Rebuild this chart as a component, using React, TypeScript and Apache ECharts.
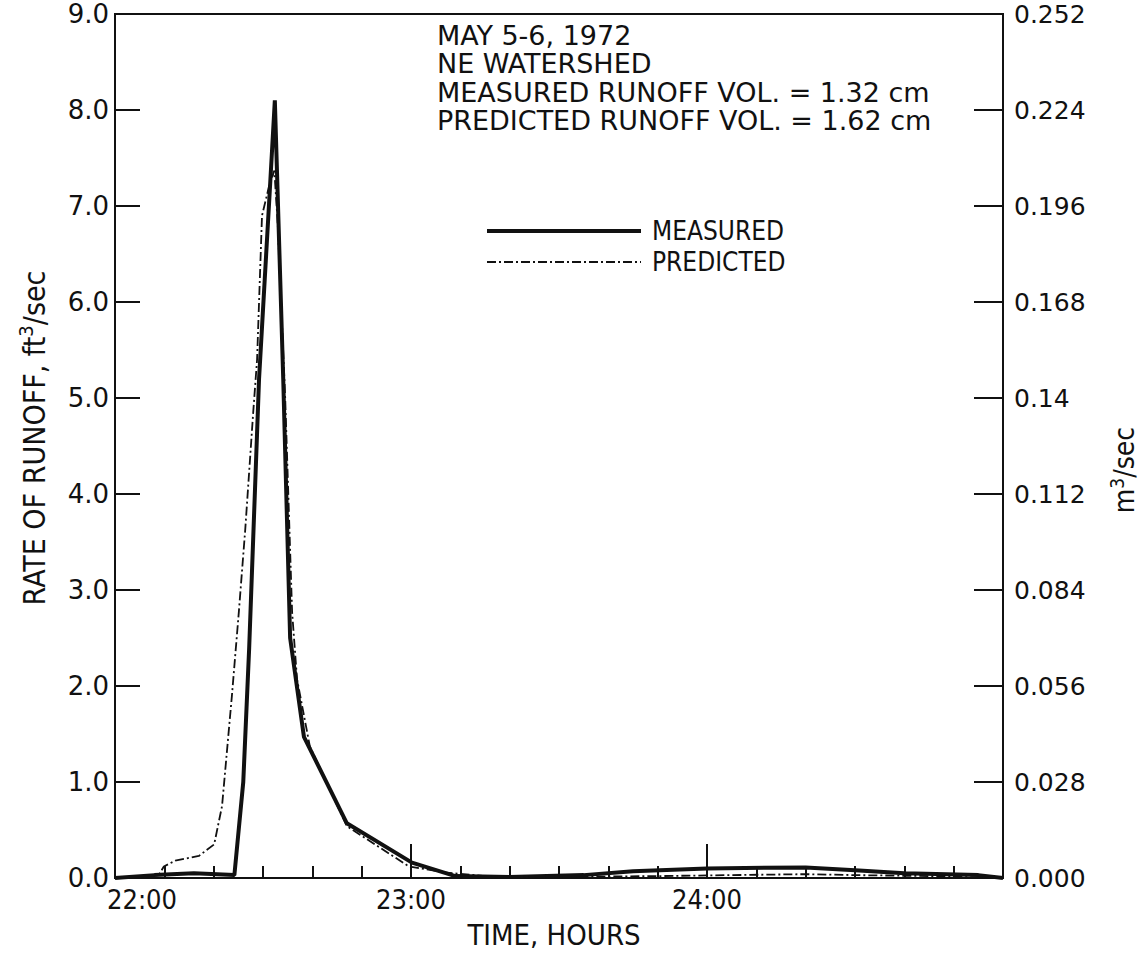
import React, { useEffect, useRef } from "react";
import * as echarts from "echarts";

// minutes after 22:00
const measuredTime = [0, 8, 16, 24.2, 26, 27.2, 29.2, 31.2, 32.4, 34.1, 35.5, 38.3, 47, 60.2, 69, 80, 95, 105, 120, 140, 150, 160, 175, 180];
const measuredFlow = [0, 0.03, 0.05, 0.03, 1.0, 2.4, 5.2, 7.0, 8.1, 5.2, 2.5, 1.47, 0.57, 0.16, 0.02, 0.01, 0.03, 0.07, 0.1, 0.11, 0.08, 0.05, 0.03, 0];
const predictedTime = [0, 8.5, 9.9, 12.2, 17, 20.1, 21.7, 23.7, 25.1, 26.4, 28.0, 28.8, 29.8, 31.2, 32.3, 33.0, 34.5, 35.9, 36.9, 39.5, 47, 59.6, 66.5, 75, 90, 110, 125, 140, 150, 165, 180];
const predictedFlow = [0, 0, 0.12, 0.18, 0.23, 0.35, 0.75, 1.9, 2.77, 3.63, 4.84, 5.4, 6.9, 7.2, 7.37, 6.8, 5.0, 2.77, 2.07, 1.37, 0.54, 0.12, 0.06, 0.02, 0.01, 0.02, 0.03, 0.04, 0.03, 0.02, 0];

const xTickLabels: Record<number, string> = { 0: "22:00", 60: "23:00", 120: "24:00" };
const leftTickLabels = ["0.0", "1.0", "2.0", "3.0", "4.0", "5.0", "6.0", "7.0", "8.0", "9.0"];
const rightTickLabels = ["0.000", "0.028", "0.056", "0.084", "0.112", "0.14", "0.168", "0.196", "0.224", "0.252"];
const annotationLines = [
  "MAY 5-6, 1972",
  "NE WATERSHED",
  "MEASURED RUNOFF VOL. = 1.32 cm",
  "PREDICTED RUNOFF VOL. = 1.62 cm",
];
const seriesNames = ["MEASURED", "PREDICTED"];

const TICK_FONT = "'DejaVu Sans', sans-serif";
const TEXT_FONT = "'DejaVu Sans Condensed', 'Liberation Sans Narrow', 'DejaVu Sans', sans-serif";
const INK = "#111";
const PRED_DASH = [9, 3, 2, 3];

export default function App() {
  const ref = useRef<HTMLDivElement>(null);
  useEffect(() => {
    if (!ref.current) return;
    const chart = echarts.init(ref.current, undefined, { renderer: "svg" });
    const grid = { left: 115, right: 142, top: 14, bottom: 79 };
    const option: any = {
      animation: false,
      backgroundColor: "#fff",
      grid: { ...grid, show: true, borderColor: INK, borderWidth: 2, backgroundColor: "transparent" },
      xAxis: [
        {
          type: "value",
          min: 0,
          max: 180,
          interval: 10,
          position: "bottom",
          axisLine: { show: true, onZero: false, lineStyle: { color: INK, width: 2 } },
          axisTick: { show: true, inside: true, length: 12, lineStyle: { color: INK, width: 2 } },
          splitLine: { show: false },
          axisLabel: {
            show: true,
            margin: 8,
            color: INK,
            fontFamily: TEXT_FONT,
            fontSize: 27,
            showMaxLabel: false,
            formatter: (v: number) => {
              const t = xTickLabels[Math.round(v)];
              if (!t) return "";
              return Math.round(v) === 0 ? "{first|" + t + "}" : t;
            },
            rich: { first: { fontFamily: TEXT_FONT, fontSize: 27, color: INK, padding: [0, 0, 0, 54] } },
          },
        },
        {
          type: "value",
          min: 0,
          max: 180,
          interval: 60,
          position: "bottom",
          axisLine: { show: false, onZero: false },
          axisTick: { show: true, inside: true, length: 34, lineStyle: { color: INK, width: 2 } },
          splitLine: { show: false },
          axisLabel: { show: false },
        },
      ],
      yAxis: [
        {
          type: "value",
          min: 0,
          max: 9,
          interval: 1,
          position: "left",
          axisLine: { show: true, onZero: false, lineStyle: { color: INK, width: 2 } },
          axisTick: { show: true, inside: true, length: 25, lineStyle: { color: INK, width: 2 } },
          splitLine: { show: false },
          axisLabel: {
            color: INK,
            fontFamily: TICK_FONT,
            fontSize: 26,
            margin: 6,
            formatter: (v: number) => leftTickLabels[Math.round(v)] ?? "",
          },
        },
        {
          type: "value",
          min: 0,
          max: 0.252,
          interval: 0.028,
          position: "right",
          axisLine: { show: true, onZero: false, lineStyle: { color: INK, width: 2 } },
          axisTick: { show: true, inside: true, length: 29, lineStyle: { color: INK, width: 2 } },
          splitLine: { show: false },
          axisLabel: {
            color: INK,
            fontFamily: TICK_FONT,
            fontSize: 25,
            margin: 11,
            formatter: (v: number) => rightTickLabels[Math.round(v / 0.028)] ?? "",
          },
        },
      ],
      series: [
        {
          name: seriesNames[0],
          type: "line",
          xAxisIndex: 0,
          yAxisIndex: 0,
          symbol: "none",
          data: measuredTime.map((t, i) => [t, measuredFlow[i]]),
          lineStyle: { color: INK, width: 4, type: "solid" },
          itemStyle: { color: INK },
          z: 3,
        },
        {
          name: seriesNames[1],
          type: "line",
          xAxisIndex: 0,
          yAxisIndex: 0,
          symbol: "none",
          data: predictedTime.map((t, i) => [t, predictedFlow[i]]),
          lineStyle: { color: INK, width: 1.8, type: PRED_DASH },
          itemStyle: { color: INK },
          z: 4,
        },
      ],
      graphic: [
        ...annotationLines.map((s, i) => ({
          type: "text",
          x: 437,
          y: 36 + i * 28.5,
          scaleX: 1.154,
          style: { text: s, fontFamily: TEXT_FONT, fontSize: 26, fill: INK, verticalAlign: "middle" },
        })),
        { type: "line", shape: { x1: 487, y1: 231, x2: 641, y2: 231 }, style: { stroke: INK, lineWidth: 4 } },
        { type: "line", shape: { x1: 487, y1: 262, x2: 641, y2: 262 }, style: { stroke: INK, lineWidth: 1.8, lineDash: PRED_DASH } },
        ...seriesNames.map((s, i) => ({
          type: "text",
          x: 652,
          y: 231 + i * 31,
          style: { text: s, fontFamily: TEXT_FONT, fontSize: 26, fill: INK, verticalAlign: "middle" },
        })),
        {
          type: "text",
          x: 34,
          y: 438,
          rotation: Math.PI / 2,
          style: {
            text: "RATE OF RUNOFF, ft{s|3}/sec",
            fontFamily: TEXT_FONT,
            fontSize: 30,
            fill: INK,
            align: "center",
            verticalAlign: "middle",
            rich: { s: { fontFamily: TEXT_FONT, fontSize: 20, fill: INK, padding: [0, 0, 16, 0] } },
          },
        },
        {
          type: "text",
          x: 1124,
          y: 470,
          rotation: Math.PI / 2,
          style: {
            text: "m{s|3}/sec",
            fontFamily: TEXT_FONT,
            fontSize: 28,
            fill: INK,
            align: "center",
            verticalAlign: "middle",
            rich: { s: { fontFamily: TEXT_FONT, fontSize: 19, fill: INK, padding: [0, 0, 15, 0] } },
          },
        },
        {
          type: "text",
          x: 554,
          y: 935,
          style: {
            text: "TIME, HOURS",
            fontFamily: TEXT_FONT,
            fontSize: 29,
            fill: INK,
            align: "center",
            verticalAlign: "middle",
          },
        },
      ],
    };
    chart.setOption(option);
    return () => chart.dispose();
  }, []);
  return <div ref={ref} style={{ position: "fixed", left: 0, top: 0, width: 1145, height: 957, background: "#fff" }} />;
}
